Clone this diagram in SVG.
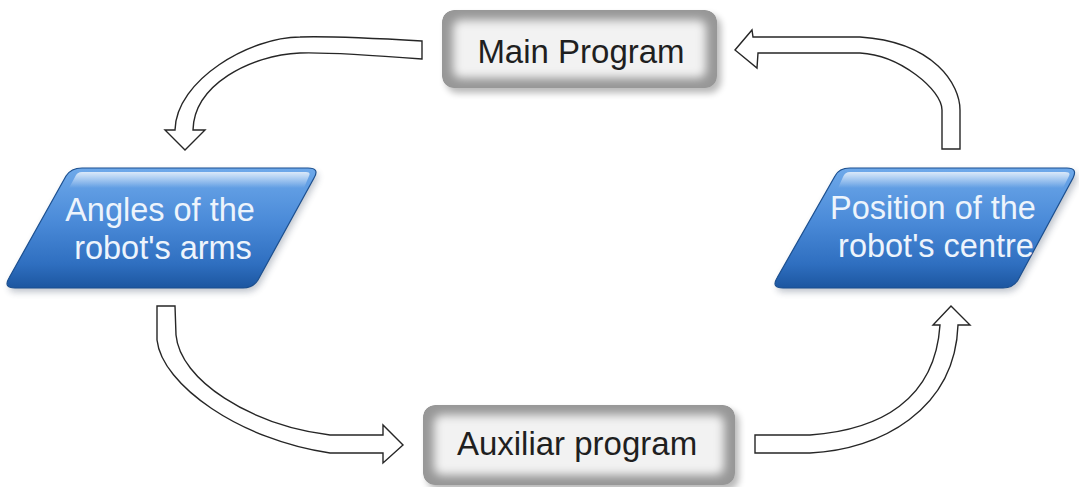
<svg xmlns="http://www.w3.org/2000/svg" width="1079" height="487" viewBox="0 0 1079 487">
  <defs>
    <style>
      .box-edge { fill: #979797; }
      .box-core { fill: #f2f2f2; filter: url(#coreBlur); }
      .box-shadow { fill: #000; opacity: 0.28; filter: url(#shadowBlur); }
      .box-label { font-family: "Liberation Sans", Arial, sans-serif; font-size: 33px; fill: #1f1f1f; text-anchor: middle; }
      .para-body { fill: url(#blueFill); stroke: #1b4f8f; stroke-width: 1.2; }
      .para-gloss { fill: url(#glossFill); }
      .para-shadow { fill: #2a3a55; opacity: 0.3; filter: url(#shadowBlur); }
      .para-label { font-family: "Liberation Sans", Arial, sans-serif; font-size: 32.5px; fill: #edf4fc; text-anchor: middle; }
      .flow-arrow { fill: #ffffff; stroke: #262626; stroke-width: 1.4; stroke-linejoin: miter; }
    </style>
    <filter id="coreBlur" x="-20%" y="-40%" width="140%" height="180%">
      <feGaussianBlur stdDeviation="5"/>
    </filter>
    <filter id="shadowBlur" x="-20%" y="-40%" width="140%" height="180%">
      <feGaussianBlur stdDeviation="3.5"/>
    </filter>
    <linearGradient id="blueFill" x1="0" y1="0" x2="0" y2="1">
      <stop offset="0" stop-color="#6ea9ea"/>
      <stop offset="0.45" stop-color="#4a8ad8"/>
      <stop offset="0.8" stop-color="#2f6fc0"/>
      <stop offset="1" stop-color="#1c56a0"/>
    </linearGradient>
    <linearGradient id="glossFill" x1="0" y1="0" x2="0" y2="1">
      <stop offset="0" stop-color="#ffffff" stop-opacity="0.75"/>
      <stop offset="1" stop-color="#ffffff" stop-opacity="0"/>
    </linearGradient>
    <clipPath id="mainClip"><rect x="442" y="10" width="275" height="78" rx="12"/></clipPath>
    <clipPath id="auxClip"><rect x="423" y="405" width="312" height="80" rx="12"/></clipPath>
  </defs>

  <!-- block arrows between the steps -->
  <g id="connectors">
    <!-- Main Program -> Angles of the robot's arms -->
    <path class="flow-arrow" d="M422,41 C370,38 330,36 300,37 C250,37 176,80 175,130 L165,130 L185,150 L205,130 L193,130 C194,85 250,55 300,53 C330,52 370,55 422,59 Z"/>
    <!-- Angles of the robot's arms -> Auxiliar program -->
    <path class="flow-arrow" d="M157,306 L175,306 L176,335 C180,380 250,425 330,435 L383,435 L383,425 L403,445 L383,463 L383,453 L330,453 C240,440 162,385 157,340 Z"/>
    <!-- Auxiliar program -> Position of the robot's centre -->
    <path class="flow-arrow" d="M755,435 L810,435 C880,430 935,400 940,325 L933,325 L951,306 L970,325 L958,325 C955,410 880,450 810,453 L755,453 Z"/>
    <!-- Position of the robot's centre -> Main Program -->
    <path class="flow-arrow" d="M942,149 L960,149 L960,110 C960,85 935,42 860,37 L753,37 L752,30 L735,50 L757,68 L758,53 L860,53 C900,55 942,90 942,110 Z"/>
  </g>

  <g id="main-program">
    <rect class="box-shadow" x="446" y="15" width="275" height="78" rx="12"/>
    <g clip-path="url(#mainClip)">
      <rect class="box-edge" x="442" y="10" width="275" height="78" rx="12"/>
      <rect class="box-core" x="453" y="20" width="253" height="58" rx="8"/>
    </g>
    <text class="box-label" x="581" y="63">Main Program</text>
  </g>

  <g id="auxiliar-program">
    <rect class="box-shadow" x="427" y="410" width="312" height="80" rx="12"/>
    <g clip-path="url(#auxClip)">
      <rect class="box-edge" x="423" y="405" width="312" height="80" rx="12"/>
      <rect class="box-core" x="434" y="415" width="290" height="60" rx="8"/>
    </g>
    <text class="box-label" x="577" y="455">Auxiliar program</text>
  </g>

  <g id="angles-of-arms">
    <path class="para-shadow" d="M84,172 L310,172 Q322,172 316,182 L260,284 Q255,292 245,292 L17,292 Q5,292 11,282 L68,180 Q73,172 84,172 Z"/>
    <path class="para-body" d="M82,168 L308,168 Q320,168 314,178 L258,280 Q253,288 243,288 L15,288 Q3,288 9,278 L66,176 Q71,168 82,168 Z"/>
    <path class="para-gloss" d="M82,172 L306,172 Q311,172 309,176 L304,188 L69,188 L75,177 Q77,172 82,172 Z"/>
    <text class="para-label" transform="translate(160,221) scale(1,1.04)">Angles of the</text>
    <text class="para-label" transform="translate(163,259) scale(1,1.04)">robot's arms</text>
  </g>

  <g id="robot-centre">
    <path class="para-shadow" d="M852,172 L1070,172 Q1080,172 1076,182 L1020,284 Q1015,292 1005,292 L785,292 Q773,292 779,282 L837,180 Q841,172 852,172 Z"/>
    <path class="para-body" d="M850,168 L1067,168 Q1078,168 1073,178 L1018,280 Q1013,288 1003,288 L783,288 Q771,288 777,278 L835,176 Q839,168 850,168 Z"/>
    <path class="para-gloss" d="M850,172 L1065,172 Q1071,172 1069,176 L1063,188 L838,188 L843,177 Q845,172 850,172 Z"/>
    <text class="para-label" transform="translate(933,219) scale(1,1.04)">Position of the</text>
    <text class="para-label" transform="translate(936,257) scale(1,1.04)">robot's centre</text>
  </g>
</svg>
